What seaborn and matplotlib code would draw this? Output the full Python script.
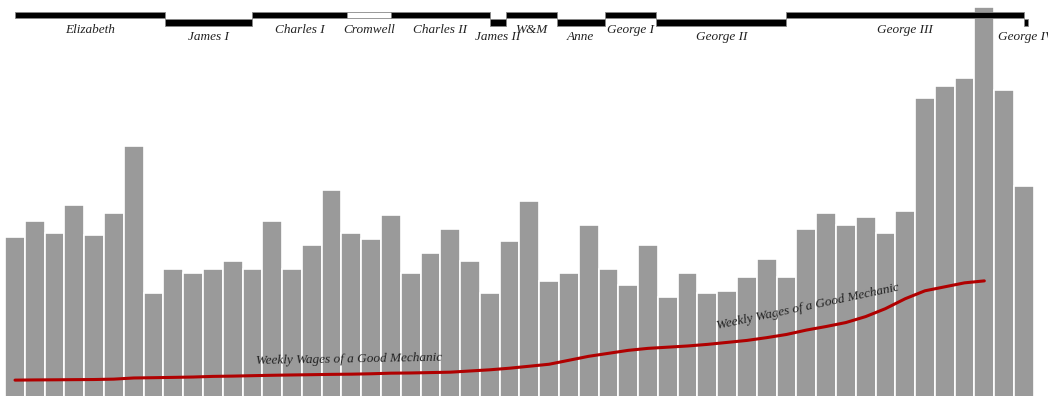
import numpy as np
import pandas as pd
import matplotlib
matplotlib.use("Agg")
import matplotlib.pyplot as plt
import seaborn as sns

years = [1565, 1570, 1575, 1580, 1585, 1590, 1595, 1600, 1605, 1610, 1615, 1620,
         1625, 1630, 1635, 1640, 1645, 1650, 1655, 1660, 1665, 1670, 1675, 1680,
         1685, 1690, 1695, 1700, 1705, 1710, 1715, 1720, 1725, 1730, 1735, 1740,
         1745, 1750, 1755, 1760, 1765, 1770, 1775, 1780, 1785, 1790, 1795, 1800,
         1805, 1810, 1815, 1820]
wheat = [41, 45, 42, 49, 41.5, 47, 64, 27, 33, 32, 33, 35,
         33, 45, 33, 39, 53, 42, 40.5, 46.5, 32, 37, 43, 35,
         27, 40, 50, 30, 32, 44, 33, 29, 39, 26, 32, 27,
         27.5, 31, 35.5, 31, 43, 47, 44, 46, 42, 47.5, 76, 79,
         81, 99, 78, 54]
wage_years = years[:50]
wages = [5.00, 5.05, 5.08, 5.12, 5.15, 5.25, 5.54, 5.61, 5.69, 5.78, 5.94, 6.01,
         6.12, 6.22, 6.30, 6.37, 6.45, 6.50, 6.60, 6.75, 6.80, 6.90, 7.00, 7.30,
         7.60, 8.00, 8.50, 9.00, 10.00, 11.00, 11.75, 12.50, 13.00, 13.30, 13.60, 14.00,
         14.50, 15.00, 15.70, 16.50, 17.60, 18.50, 19.50, 21.00, 23.00, 25.50, 27.50, 28.50,
         29.50, 30.00]

monarchs = ["Elizabeth", "James I", "Charles I", "Cromwell", "Charles II", "James II",
            "W&M", "Anne", "George I", "George II", "George III", "George IV"]
m_start = [1565, 1603, 1625, 1649, 1660, 1685, 1689, 1702, 1714, 1727, 1760, 1820]
m_end = [1603, 1625, 1649, 1660, 1685, 1689, 1702, 1714, 1727, 1760, 1820, 1821]
m_commonwealth = [0, 0, 0, 1, 0, 0, 0, 0, 0, 0, 0, 0]
m_upper = [1, 0, 1, 1, 1, 0, 1, 0, 1, 0, 1, 0]

sns.set_theme(style="white")
plt.rcParams['font.family'] = ['Liberation Serif', 'DejaVu Serif']

fig = plt.figure(figsize=(10.48, 3.96), dpi=100)
ax = fig.add_axes([0, 0, 1, 1])

df = pd.DataFrame({"year": years, "wheat": wheat})
sns.barplot(data=df, x="year", y="wheat", native_scale=True, width=1.0,
            color="#9a9a9a", saturation=1, edgecolor="white", linewidth=1.2, ax=ax)

wdf = pd.DataFrame({"year": wage_years, "wages": wages})
sns.lineplot(data=wdf, x="year", y="wages", color="#b00000", linewidth=2.2, ax=ax)

# monarch bars
for name, s, e, c, up in zip(monarchs, m_start, m_end, m_commonwealth, m_upper):
    bottom = 96.1 if up else 94.2
    ax.bar(s, 1.75, width=e - s, bottom=bottom, align="edge",
           color="white" if c else "black", edgecolor="#888888", linewidth=0.6)
    ty = 93.3 if up else 91.5
    ax.text((s + e) / 2, ty, name, ha="center", va="center", fontsize=9.5,
            style="italic", color="#222222")

ax.text(1649.5, 10.2, "Weekly Wages of a Good Mechanic", ha="center", va="center",
        fontsize=9.5, style="italic", color="#222222", rotation=1)
ax.text(1765.3, 23.5, "Weekly Wages of a Good Mechanic", ha="center", va="center",
        fontsize=9.5, style="italic", color="#222222", rotation=12)

ax.set_xlim(1561.2, 1826.1)
ax.set_ylim(1.0, 100.75)
ax.set_axis_off()
fig.savefig("out.png", dpi=100)
